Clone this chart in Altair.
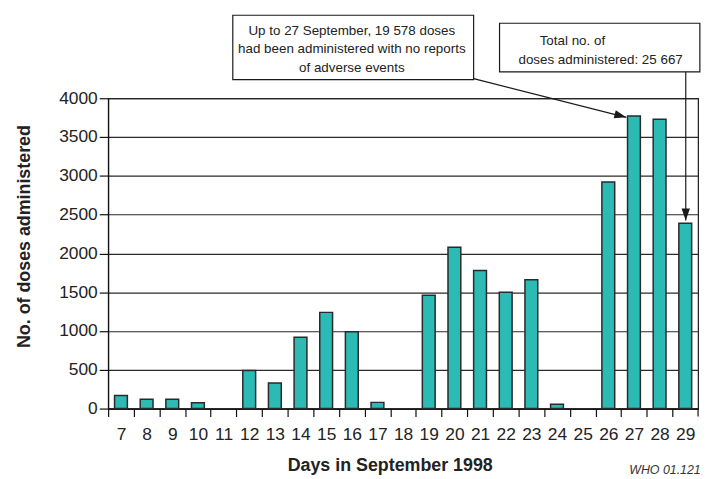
import altair as alt
import pandas as pd

# ---- data ----
days = list(range(7, 30))
doses = [170, 120, 120, 75, 0, 490, 330, 920, 1240, 990, 80, 0,
         1460, 2080, 1780, 1500, 1660, 55, 0, 2920, 3770, 3730, 2390]
y_ticks = [0, 500, 1000, 1500, 2000, 2500, 3000, 3500, 4000]

# annotation boxes (day units, dose units)
box_x1 = [11.36, 21.76]
box_x2 = [20.75, 29.57]
box_y1 = [4239, 4341]
box_y2 = [5070, 4967]

# annotation text lines
line_text = ["Up to 27 September, 19 578 doses",
             "had been administered with no reports",
             "of adverse events",
             "Total no. of",
             "doses administered: 25 667"]
line_x = [16.0, 16.0, 16.0, 24.6, 25.7]
line_y = [4869, 4629, 4392, 4737, 4495]

# arrows
arrow_x1 = [20.75, 29.02]
arrow_y1 = [4252, 4341]
arrow_x2 = [26.7, 29.02]
arrow_y2 = [3754, 2424]
arrow_angle = [14.6, 90]

# closing tick at the right end of the day axis
end_tick_x = [29.5]
end_tick_y = [0]
end_tick_y2 = [-102]

credit_text = ["WHO 01.121"]
credit_x = [28.21]
credit_y = [-790]

REG = "Liberation Sans, Arial, sans-serif"
W, H = 595, 313
STEP = W / len(days)
HALF_GAP = 0.25 * STEP

bars_df = pd.DataFrame({"day": days, "doses": doses})
boxes_df = pd.DataFrame({"x1": box_x1, "x2": box_x2, "y1": box_y1, "y2": box_y2})
lines_df = pd.DataFrame({"t": line_text, "x": line_x, "y": line_y})
arrows_df = pd.DataFrame({"x1": arrow_x1, "y1": arrow_y1, "x2": arrow_x2,
                          "y2": arrow_y2, "ang": arrow_angle})
tick_df = pd.DataFrame({"x": end_tick_x, "y": end_tick_y, "y2": end_tick_y2})
credit_df = pd.DataFrame({"t": credit_text, "x": credit_x, "y": credit_y})

yscale = alt.Scale(domain=[0, 4000], nice=False, zero=True)
xq = alt.Scale(domain=[6.5, 29.5], nice=False, zero=False)

bars = alt.Chart(bars_df).mark_bar(
    fill="#2bbab4", stroke="#2a2a2a", strokeWidth=1.5
).encode(
    x=alt.X("day:O", sort=days,
            scale=alt.Scale(domain=days, paddingInner=0.5, paddingOuter=0.25),
            axis=alt.Axis(title="Days in September 1998", labelAngle=0,
                          bandPosition=0, tickOffset=-HALF_GAP,
                          labelOffset=HALF_GAP,
                          tickSize=8, tickColor="#111",
                          tickWidth=1.2, domainColor="#111", domainWidth=1.2,
                          labelFont=REG, labelFontSize=17.5, labelColor="#222",
                          labelPadding=9, grid=False,
                          titleFont=REG, titleFontSize=18, titleFontWeight="bold",
                          titleColor="#222", titleX=284, titleY=57,
                          titleBaseline="middle", titleAlign="center")),
    y=alt.Y("doses:Q", scale=yscale,
            axis=alt.Axis(title="No. of doses administered", values=y_ticks,
                          format="d",
                          tickSize=9, tickColor="#111", tickWidth=1.2,
                          domainColor="#111", domainWidth=1.2,
                          labelFont=REG, labelFontSize=17.5, labelColor="#222",
                          labelPadding=2, grid=True, gridColor="#2a2a2a",
                          gridWidth=1.2, gridOpacity=1,
                          titleFont=REG, titleFontSize=18, titleFontWeight="bold",
                          titleColor="#222", titleAngle=270, titleX=-84,
                          titleY=139, titleBaseline="middle", titleAlign="center")),
    strokeOpacity=alt.condition("datum.doses > 0", alt.value(1), alt.value(0)),
)

boxes = alt.Chart(boxes_df).mark_rect(
    fill="white", stroke="#1a1a1a", strokeWidth=1.2
).encode(
    x=alt.X("x1:Q", scale=xq, axis=None), x2="x2:Q",
    y=alt.Y("y1:Q", scale=yscale, axis=None), y2="y2:Q",
)

lines = alt.Chart(lines_df).mark_text(
    font=REG, fontSize=13.5, color="#222", align="center", baseline="middle"
).encode(
    x=alt.X("x:Q", scale=xq, axis=None),
    y=alt.Y("y:Q", scale=yscale, axis=None),
    text="t:N",
)

arrow_lines = alt.Chart(arrows_df).mark_rule(color="#1a1a1a", strokeWidth=1.2).encode(
    x=alt.X("x1:Q", scale=xq, axis=None), x2="x2:Q",
    y=alt.Y("y1:Q", scale=yscale, axis=None), y2="y2:Q",
)

arrow_heads = alt.Chart(arrows_df).mark_point(
    shape="M0,0 L-2,-0.7 L-2,0.7 Z", size=144, filled=True,
    color="#1a1a1a", opacity=1
).encode(
    x=alt.X("x2:Q", scale=xq, axis=None),
    y=alt.Y("y2:Q", scale=yscale, axis=None),
    angle=alt.Angle("ang:Q", scale=None),
)

end_tick = alt.Chart(tick_df).mark_rule(color="#111", strokeWidth=1.2).encode(
    x=alt.X("x:Q", scale=xq, axis=None),
    y=alt.Y("y:Q", scale=yscale, axis=None), y2="y2:Q",
)

credit = alt.Chart(credit_df).mark_text(
    font=REG, fontSize=12.5, fontStyle="italic", color="#333",
    align="center", baseline="middle"
).encode(
    x=alt.X("x:Q", scale=xq, axis=None),
    y=alt.Y("y:Q", scale=yscale, axis=None),
    text="t:N",
)

chart = alt.layer(
    bars, boxes, arrow_lines, arrow_heads, lines, end_tick, credit
).resolve_scale(x="independent").resolve_axis(
    x="independent", y="independent"
).properties(
    width=W, height=H,
    autosize=alt.AutoSizeParams(type="none"),
    padding={"left": 101, "top": 89, "right": 8, "bottom": 69},
).configure(
    background="white"
).configure_view(
    stroke="#1a1a1a", strokeWidth=1.2
)

chart.save("out.html", embed_options={"renderer": "svg", "actions": False})
